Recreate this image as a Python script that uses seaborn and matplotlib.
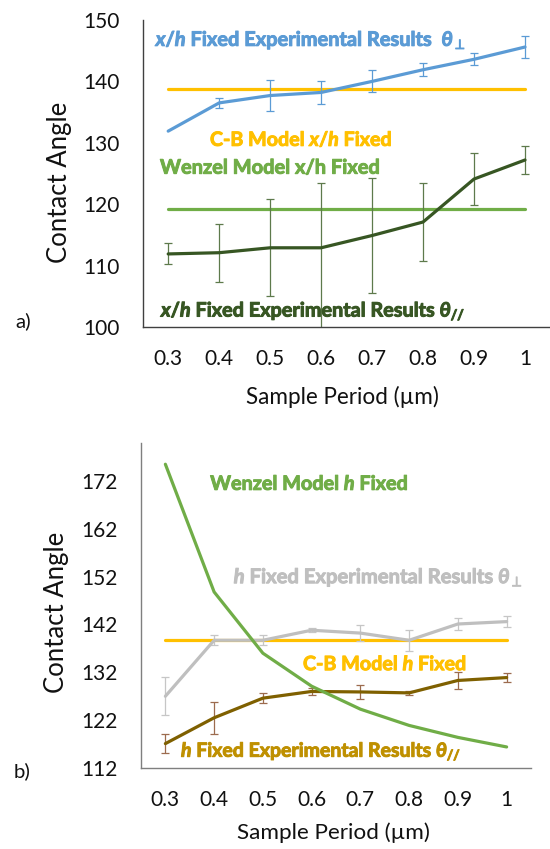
import numpy as np
import pandas as pd
import matplotlib
matplotlib.use("Agg")
import matplotlib.pyplot as plt
import matplotlib.patheffects as pe
import seaborn as sns

# ---------------- data ----------------
period = [0.3, 0.4, 0.5, 0.6, 0.7, 0.8, 0.9, 1.0]
xtick_labels = ["0.3", "0.4", "0.5", "0.6", "0.7", "0.8", "0.9", "1"]

# panel a) x/h fixed
a_perp = [131.9, 136.5, 137.7, 138.2, 140.0, 141.9, 143.6, 145.6]
a_perp_err = [np.nan, 0.8, 2.6, 1.9, 1.8, 1.05, 1.0, 1.8]
a_par = [111.9, 112.1, 112.9, 112.9, 114.9, 117.1, 124.1, 127.2]
a_par_err_low = [1.7, 4.7, 7.9, 13.5, 9.3, 6.35, 4.3, 2.3]
a_par_err_high = [1.7, 4.7, 7.9, 10.5, 9.3, 6.35, 4.3, 2.3]
a_cb = [138.8, 138.8, 138.8, 138.8, 138.8, 138.8, 138.8, 138.8]
a_wenzel = [119.2, 119.2, 119.2, 119.2, 119.2, 119.2, 119.2, 119.2]
a_yticks = [100, 110, 120, 130, 140, 150]

# panel b) h fixed
b_wenzel = [175.5, 148.8, 136.0, 129.1, 124.3, 120.9, 118.4, 116.4]
b_perp = [127.0, 138.7, 138.7, 140.8, 140.2, 138.7, 142.1, 142.6]
b_perp_err = [4.0, 1.0, 1.0, 0.4, 1.7, 2.2, 1.3, 1.1]
b_par = [117.1, 122.5, 126.6, 128.0, 127.9, 127.7, 130.3, 130.9]
b_par_err = [2.0, 3.3, 1.0, 0.8, 1.4, 0.35, 1.7, 0.9]
b_cb = [138.8, 138.8, 138.8, 138.8, 138.8, 138.8, 138.8, 138.8]
b_yticks = [112, 122, 132, 142, 152, 162, 172]

# ---------------- style ----------------
sns.set_theme(style="white")
plt.rcParams["font.family"] = ["Lato", "DejaVu Sans"]
plt.rcParams["mathtext.fontset"] = "custom"
plt.rcParams["mathtext.rm"] = "Lato:bold"
plt.rcParams["mathtext.bf"] = "Lato:bold"
plt.rcParams["mathtext.it"] = "Lato:italic:bold"
plt.rcParams["mathtext.fallback"] = "stixsans"

BLUE = "#5B9BD5"
YELLOW = "#FFC000"
GREEN = "#70AD47"
DKGREEN = "#375623"
DKGREEN_ERR = "#5E7A4C"
GRAY = "#BFBFBF"
GRAY_ERR = "#C6C6C6"
BROWN = "#7F6000"
BROWN_ERR = "#9C6B4E"
BROWN_TXT = "#BF9000"

W, H = 550, 849
fig = plt.figure(figsize=(W / 100, H / 100), dpi=100)

axA = fig.add_axes([142.7 / W, 1 - 327 / H, (550.5 - 142.7) / W, (327 - 20) / H])
axB = fig.add_axes([141 / W, 1 - 768 / H, (531 - 141) / W, (768 - 442.7) / H])

dfA = pd.DataFrame({"period": period, "perp": a_perp, "par": a_par,
                    "cb": a_cb, "wenzel": a_wenzel})
dfB = pd.DataFrame({"period": period, "perp": b_perp, "par": b_par,
                    "cb": b_cb, "wenzel": b_wenzel})

LW = 2.3
# ---- panel a
sns.lineplot(data=dfA, x="period", y="cb", ax=axA, color=YELLOW, lw=LW)
sns.lineplot(data=dfA, x="period", y="wenzel", ax=axA, color=GREEN, lw=LW)
axA.errorbar(period, a_perp, yerr=a_perp_err, fmt="none", ecolor=BLUE,
             elinewidth=0.9, capsize=2.6, capthick=0.9)
sns.lineplot(data=dfA, x="period", y="perp", ax=axA, color=BLUE, lw=LW)
axA.errorbar(period, a_par, yerr=[a_par_err_low, a_par_err_high], fmt="none",
             ecolor=DKGREEN_ERR, elinewidth=0.9, capsize=2.6, capthick=0.9)
sns.lineplot(data=dfA, x="period", y="par", ax=axA, color=DKGREEN, lw=LW)
axA.set_ylim(100, 150)
axA.set_yticks(a_yticks)

# ---- panel b
sns.lineplot(data=dfB, x="period", y="cb", ax=axB, color=YELLOW, lw=LW)
axB.errorbar(period, b_perp, yerr=b_perp_err, fmt="none", ecolor=GRAY_ERR,
             elinewidth=0.9, capsize=2.6, capthick=0.9)
sns.lineplot(data=dfB, x="period", y="perp", ax=axB, color=GRAY, lw=LW)
axB.errorbar(period, b_par, yerr=b_par_err, fmt="none", ecolor=BROWN_ERR,
             elinewidth=0.9, capsize=2.6, capthick=0.9)
sns.lineplot(data=dfB, x="period", y="par", ax=axB, color=BROWN, lw=LW)
sns.lineplot(data=dfB, x="period", y="wenzel", ax=axB, color=GREEN, lw=LW)
axB.set_ylim(112, 180)
axB.set_yticks(b_yticks)

for ax, sc in ((axA, "#404040"), (axB, "#7F7F7F")):
    ax.set_xlim(0.25, 1.05)
    ax.set_xticks(period)
    ax.set_xticklabels(xtick_labels)
    ax.set_xlabel("")
    ax.set_ylabel("")
    for s in ("top", "right"):
        ax.spines[s].set_visible(False)
    for s in ("left", "bottom"):
        ax.spines[s].set_color(sc)
        ax.spines[s].set_linewidth(1.0)
    ax.tick_params(axis="x", direction="in", length=4.5, width=0.9, color=sc,
                   pad=16, labelsize=15, labelcolor="#111111")
    ax.tick_params(axis="y", direction="out", length=5, width=0.9, color=sc,
                   pad=11.5, labelsize=15, labelcolor="#111111")
    ax.set_facecolor("none")
    for lbl in ax.get_xticklabels() + ax.get_yticklabels():
        lbl.set_family("Lato")

fits = []


def label(txt, x_px, y_px, w_px, color, weight="bold", ha="left", rot=0):
    t = fig.text(x_px / W, 1 - y_px / H, txt, color=color, ha=ha, va="center",
                 fontweight=weight, fontsize=14, rotation=rot)
    if weight == "bold":
        t.set_path_effects([pe.withStroke(linewidth=0.7, foreground=color)])
    fits.append((t, w_px, rot))
    return t


# panel a annotations
label(r"$\it{x/h}$ Fixed Experimental Results  $\theta_{\perp}$", 155.7, 40, 312, BLUE)
label(r"C-B Model $\it{x/h}$ Fixed", 210, 140, 183, YELLOW)
label("Wenzel Model x/h Fixed", 160, 167.7, 221, GREEN)
label(r"$\it{x/h}$ Fixed Experimental Results $\theta_{//}$", 161, 310.7, 306, DKGREEN)
label("a)", 15.8, 321.7, 15.8, "#111111", weight="normal")
label("Contact Angle", 59.8, 182.5, 161.7, "#111111", weight="normal", ha="center", rot=90)
label("Sample Period (µm)", 342, 396.7, 194, "#111111", weight="normal", ha="center")

# panel b annotations
label(r"Wenzel Model $\it{h}$ Fixed", 210.2, 484, 199, GREEN)
label(r"$\it{h}$ Fixed Experimental Results $\theta_{\perp}$", 233.7, 577.3, 290, GRAY)
label(r"C-B Model $\it{h}$ Fixed", 303, 664.3, 164.5, YELLOW)
label(r"$\it{h}$ Fixed Experimental Results $\theta_{//}$", 181, 751.7, 281, BROWN_TXT)
label("b)", 14, 771.7, 17, "#111111", weight="normal")
label("Contact Angle", 56.2, 612.5, 161.7, "#111111", weight="normal", ha="center", rot=90)
label("Sample Period (µm)", 333.5, 833, 193.5, "#111111", weight="normal", ha="center")

fig.canvas.draw()
renderer = fig.canvas.get_renderer()
for t, w, rot in fits:
    bb = t.get_window_extent(renderer)
    size = bb.height if rot == 90 else bb.width
    t.set_fontsize(t.get_fontsize() * w / size)

fig.savefig("out.png", dpi=100, facecolor="white")
